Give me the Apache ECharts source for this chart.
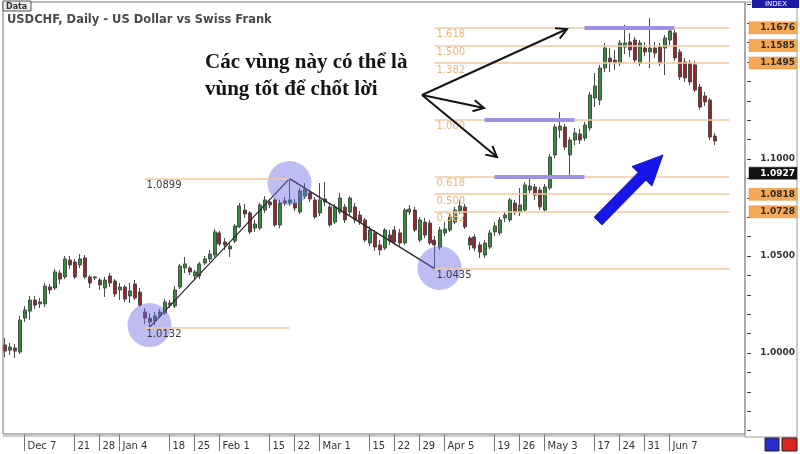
<!DOCTYPE html>
<html><head><meta charset="utf-8">
<script src="https://cdn.jsdelivr.net/npm/echarts@6/dist/echarts.min.js"></script>
<style>html,body{margin:0;padding:0;background:#fff}#c{width:800px;height:454px}</style>
</head><body><div id="c"></div>
<script>
// ---------- DATA (USDCHF daily) ----------
const opens = [1.0041,1.0015,1.0026,1.0005,1.0180,1.0216,1.0273,1.0253,1.0253,1.0340,
1.0335,1.0412,1.0392,1.0479,1.0469,1.0454,1.0490,1.0392,1.0387,1.0376,
1.0335,1.0397,1.0371,1.0325,1.0340,1.0294,1.0356,1.0314,1.0211,1.0180,
1.0165,1.0191,1.0206,1.0247,1.0242,1.0340,1.0438,1.0438,1.0397,1.0397,
1.0464,1.0485,1.0505,1.0619,1.0572,1.0536,1.0577,1.0650,1.0737,1.0722,
1.0644,1.0644,1.0737,1.0778,1.0789,1.0660,1.0784,1.0773,1.0773,1.0727,
1.0809,1.0825,1.0789,1.0722,1.0794,1.0753,1.0675,1.0727,1.0753,1.0727,
1.0753,1.0711,1.0686,1.0567,1.0619,1.0557,1.0541,1.0608,1.0634,1.0619,
1.0567,1.0727,1.0737,1.0582,1.0675,1.0670,1.0582,1.0546,1.0619,1.0634,
1.0675,1.0732,1.0753,1.0593,1.0598,1.0557,1.0505,1.0546,1.0624,1.0619,
1.0696,1.0686,1.0773,1.0727,1.0737,1.0840,1.0856,1.0840,1.0737,1.0851,
1.1021,1.1149,1.1165,1.1021,1.1098,1.1129,1.1108,1.1160,1.1315,1.1304,
1.1469,1.1520,1.1510,1.1495,1.1577,1.1603,1.1613,1.1495,1.1572,1.1552,
1.1572,1.1577,1.1572,1.1613,1.1650,1.1552,1.1500,1.1495,1.1485,1.1371,
1.1325,1.1304,1.1118];
const closes = [1.0010,1.0031,1.0010,1.0170,1.0222,1.0273,1.0247,1.0263,1.0345,1.0325,
1.0418,1.0381,1.0485,1.0454,1.0392,1.0485,1.0392,1.0361,1.0392,1.0351,
1.0376,1.0361,1.0304,1.0340,1.0278,1.0320,1.0284,1.0247,1.0180,1.0160,
1.0191,1.0211,1.0263,1.0258,1.0325,1.0448,1.0459,1.0418,1.0418,1.0459,
1.0485,1.0510,1.0624,1.0562,1.0557,1.0551,1.0655,1.0758,1.0717,1.0624,
1.0665,1.0763,1.0789,1.0763,1.0660,1.0773,1.0773,1.0789,1.0747,1.0835,
1.0845,1.0794,1.0701,1.0789,1.0778,1.0660,1.0753,1.0799,1.0686,1.0799,
1.0686,1.0675,1.0582,1.0634,1.0546,1.0531,1.0634,1.0577,1.0572,1.0567,
1.0737,1.0742,1.0634,1.0686,1.0608,1.0567,1.0557,1.0634,1.0639,1.0701,
1.0737,1.0758,1.0650,1.0557,1.0541,1.0520,1.0567,1.0619,1.0655,1.0686,
1.0711,1.0789,1.0727,1.0763,1.0866,1.0861,1.0814,1.0753,1.0856,1.1010,
1.1165,1.1170,1.1062,1.1098,1.1134,1.1098,1.1175,1.1330,1.1376,1.1469,
1.1572,1.1500,1.1495,1.1598,1.1598,1.1562,1.1510,1.1598,1.1552,1.1572,
1.1546,1.1495,1.1624,1.1660,1.1521,1.1423,1.1418,1.1397,1.1356,1.1268,
1.1294,1.1113,1.1093];
const lows = [0.9979,0.9990,0.9974,0.9995,1.0160,1.0170,1.0227,1.0232,1.0237,1.0304,
1.0325,1.0356,1.0381,1.0433,1.0381,1.0438,1.0381,1.0335,1.0376,1.0325,
1.0289,1.0340,1.0289,1.0273,1.0263,1.0258,1.0273,1.0237,1.0149,1.0132,
1.0144,1.0180,1.0196,1.0232,1.0232,1.0330,1.0412,1.0402,1.0376,1.0381,
1.0454,1.0469,1.0495,1.0551,1.0531,1.0495,1.0567,1.0644,1.0696,1.0613,
1.0624,1.0634,1.0722,1.0747,1.0650,1.0644,1.0758,1.0758,1.0732,1.0717,
1.0794,1.0778,1.0691,1.0706,1.0758,1.0650,1.0665,1.0717,1.0670,1.0711,
1.0670,1.0660,1.0572,1.0551,1.0526,1.0505,1.0531,1.0557,1.0557,1.0551,
1.0557,1.0711,1.0624,1.0572,1.0593,1.0557,1.0435,1.0531,1.0603,1.0624,
1.0665,1.0717,1.0639,1.0531,1.0526,1.0490,1.0490,1.0536,1.0603,1.0608,
1.0675,1.0675,1.0711,1.0706,1.0727,1.0825,1.0789,1.0737,1.0727,1.0840,
1.1005,1.1108,1.1046,1.0918,1.1072,1.1077,1.1093,1.1144,1.1268,1.1278,
1.1448,1.1448,1.1459,1.1479,1.1541,1.1526,1.1495,1.1479,1.1531,1.1469,
1.1521,1.1479,1.1433,1.1588,1.1505,1.1407,1.1397,1.1381,1.1345,1.1253,
1.1273,1.1098,1.1072];
const highs = [1.0077,1.0052,1.0046,1.0191,1.0242,1.0294,1.0294,1.0284,1.0361,1.0356,
1.0433,1.0428,1.0500,1.0500,1.0485,1.0510,1.0505,1.0402,1.0397,1.0387,
1.0392,1.0412,1.0381,1.0361,1.0351,1.0361,1.0376,1.0335,1.0232,1.0206,
1.0211,1.0227,1.0278,1.0273,1.0345,1.0459,1.0495,1.0448,1.0428,1.0469,
1.0500,1.0531,1.0639,1.0629,1.0593,1.0572,1.0665,1.0773,1.0768,1.0732,
1.0686,1.0773,1.0809,1.0794,1.0799,1.0789,1.0804,1.0899,1.0794,1.0851,
1.0876,1.0840,1.0804,1.0876,1.0881,1.0768,1.0768,1.0825,1.0768,1.0809,
1.0773,1.0732,1.0696,1.0655,1.0634,1.0582,1.0644,1.0634,1.0655,1.0639,
1.0747,1.0763,1.0753,1.0701,1.0696,1.0686,1.0603,1.0650,1.0675,1.0717,
1.0753,1.0789,1.0768,1.0603,1.0613,1.0572,1.0582,1.0634,1.0675,1.0701,
1.0727,1.0799,1.0789,1.0851,1.0881,1.0918,1.0871,1.0856,1.0871,1.1026,
1.1180,1.1242,1.1180,1.1113,1.1160,1.1155,1.1191,1.1345,1.1443,1.1485,
1.1598,1.1572,1.1562,1.1613,1.1691,1.1649,1.1629,1.1613,1.1603,1.1727,
1.1603,1.1598,1.1639,1.1680,1.1665,1.1567,1.1521,1.1510,1.1505,1.1387,
1.1345,1.1315,1.1134];

const tickDates  = ['2009-12-07','2009-12-21','2009-12-28','2010-01-04','2010-01-18','2010-01-25',
  '2010-02-01','2010-02-15','2010-02-22','2010-03-01','2010-03-15','2010-03-22','2010-03-29',
  '2010-04-05','2010-04-19','2010-04-26','2010-05-03','2010-05-17','2010-05-24','2010-05-31','2010-06-07'];
const tickLabels = ['Dec 7','21','28','Jan 4','18','25','Feb 1','15','22','Mar 1','15','22','29',
  'Apr 5','19','26','May 3','17','24','31','Jun 7'];

const fibNames  = ['1.618','1.500','1.382','1.000','0.618','0.500','0.382','1.0435'];
const fibPrices = [1.1676, 1.1585, 1.1495, 1.1202, 1.0909, 1.0819, 1.0728, 1.0435];
const swingNames  = ['1.0899','1.0132'];
const swingLevels = [1.0899, 1.0132];
const swingIdx    = [29, 57, 86];
const swingPrices = [1.0132, 1.0899, 1.0435];
const zonePrices  = [1.1676, 1.1202, 1.0909];
const zoneFrom    = [116, 96, 98];
const zoneTo      = [134, 114, 116];
const circleIdx    = [29, 57, 87];
const circlePrices = [1.0144, 1.0876, 1.0438];
const tagPrices = [1.1676, 1.1585, 1.1495, 1.0927, 1.0818, 1.0728];
const tagDark   = [false, false, false, true, false, false];
const yLabelValues = [1.00, 1.05, 1.10];

// ---------- categories: trading days ----------
const cats = [];
(function(){
  let d = Date.UTC(2009, 11, 1);
  while (cats.length < 149) {
    const dt = new Date(d), wd = dt.getUTCDay(), s = dt.toISOString().slice(0,10);
    if (wd > 0 && wd < 6 && s !== '2010-01-01') cats.push(s);
    d += 86400000;
  }
})();
const tickMap = new Map(tickDates.map((d,i)=>[cats.indexOf(d), tickLabels[i]]));
const candle = opens.map((o,i)=>[o, closes[i], lows[i], highs[i]]);

// ---------- level lines ----------
const peach = '#f5c89c';
const levelLines = [];
fibPrices.forEach((p,i)=>{
  const dark = i === fibPrices.length-1;
  const lab = {show:true, position:'insideStartBottom', formatter:'{b}', distance:2,
    color: dark ? '#3a3a4a' : '#f0b47a', fontSize:10, fontFamily:'DejaVu Sans'};
  const ls = {color:peach, width:1.5, type:'solid'};
  levelLines.push([{name:fibNames[i], coord:[86,p], lineStyle:ls, label:lab},{name:fibNames[i], coord:[145,p], lineStyle:ls, label:lab}]);
});
swingLevels.forEach((p,i)=>{
  const lab = {show:true, position:'insideStartBottom', formatter:'{b}', distance:2,
    color:'#3a3a3a', fontSize:10, fontFamily:'DejaVu Sans'};
  const ls = {color:peach, width:1.5, type:'solid'};
  levelLines.push([{name:swingNames[i], coord:[28,p], lineStyle:ls, label:lab},{name:swingNames[i], coord:[57,p], lineStyle:ls, label:lab}]);
});
zonePrices.forEach((p,i)=>{
  const ls = {color:'#9d92e6', width:4, type:'solid'};
  levelLines.push([{name:'', coord:[zoneFrom[i],p], lineStyle:ls, label:{show:false}},{name:'', coord:[zoneTo[i],p], lineStyle:ls, label:{show:false}}]);
});

const chart = echarts.init(document.getElementById('c'));
chart.setOption({
  animation:false,
  backgroundColor:'#ffffff',
  grid:{left:2, right:53, top:3.8, bottom:23.4, containLabel:false},
  xAxis:{type:'category', data:cats, boundaryGap:true, offset:3.5,
    axisLine:{show:false},
    axisTick:{show:true, alignWithLabel:true, length:17, interval:(i)=>tickMap.has(i), lineStyle:{color:'#777'}},
    axisLabel:{interval:(i)=>tickMap.has(i), formatter:(v,i)=>tickMap.get(i)||'', align:'left',
      margin:7, fontSize:10, color:'#333', fontFamily:'DejaVu Sans', padding:[0,0,0,3]},
    splitLine:{show:false}},
  yAxis:{type:'value', position:'right', min:0.96, max:1.18, interval:0.01, scale:true,
    axisLine:{show:false}, splitLine:{show:false},
    axisTick:{show:true, length:4, lineStyle:{color:'#444'}},
    axisLabel:{formatter:(v)=> yLabelValues.some(x=>Math.abs(x-v)<1e-6) ? v.toFixed(4) : '',
      align:'right', margin:48, fontSize:9, fontWeight:'bold', color:'#333', fontFamily:'DejaVu Sans'}},
  series:[
    {type:'line', name:'levels', data:[], z:1, silent:true,
      markLine:{symbol:['none','none'], silent:true, animation:false, data:levelLines}},
    {type:'candlestick', data:candle, barWidth:3.5, z:2, silent:true,
      itemStyle:{color:'#2e9233', color0:'#9e2427', borderColor:'#4a4a4a', borderColor0:'#4a4a4a', borderWidth:1}},
    {type:'line', data:swingIdx.map((k,i)=>[k, swingPrices[i]]), symbol:'none', z:3, silent:true,
      lineStyle:{color:'#2a2a2a', width:1.3}},
    {type:'scatter', data:circleIdx.map((k,i)=>[k, circlePrices[i]]), symbol:'circle', symbolSize:44, z:4, silent:true,
      itemStyle:{color:'rgba(104,104,228,0.55)'}}
  ]
});

// ---------- annotations via the chart's own scales ----------
const X0 = chart.convertToPixel({xAxisIndex:0}, 0), X1 = chart.convertToPixel({xAxisIndex:0}, 1);
const px = k => X0 + k*(X1-X0);
const py = v => chart.convertToPixel({yAxisIndex:0}, v);
const g = [];

// plot frame
g.push({type:'rect', shape:{x:3, y:2, width:742, height:432}, style:{fill:null, stroke:'#777', lineWidth:1}, z:90, silent:true});
g.push({type:'line', shape:{x1:3, y1:436, x2:745, y2:436}, style:{stroke:'#999', lineWidth:1}, z:90, silent:true});
g.push({type:'rect', shape:{x:745, y:2, width:52, height:435}, style:{fill:null, stroke:'#999', lineWidth:1}, z:90, silent:true});

// black arrows
const arrowFrom = [83.5, 1.1330];
const arrowTips = [[112.5, 1.1670], [95.9, 1.1263], [98.5, 1.1010]];
const ox = px(arrowFrom[0]), oy = py(arrowFrom[1]);
arrowTips.forEach(t=>{
  const tx = px(t[0]), ty = py(t[1]);
  g.push({type:'line', shape:{x1:ox, y1:oy, x2:tx, y2:ty}, style:{stroke:'#151515', lineWidth:2}, z:95, silent:true});
  const dx = tx-ox, dy = ty-oy, L = Math.hypot(dx,dy), ux = dx/L, uy = dy/L;
  const arm = 12, a = 28*Math.PI/180;
  const r = (ang)=>[tx - arm*(ux*Math.cos(ang) - uy*Math.sin(ang)), ty - arm*(ux*Math.sin(ang) + uy*Math.cos(ang))];
  g.push({type:'polyline', shape:{points:[r(a), [tx,ty], r(-a)]}, style:{stroke:'#151515', lineWidth:2, fill:null}, z:95, silent:true});
});

// blue arrow
const bTail = [118.7, 1.0680], bTip = [131.7, 1.1021];
(function(){
  const tx = px(bTail[0]), ty = py(bTail[1]), hx = px(bTip[0]), hy = py(bTip[1]);
  const dx = hx-tx, dy = hy-ty, L = Math.hypot(dx,dy), ux = dx/L, uy = dy/L, nx = -uy, ny = ux;
  const hl = 30, hh = 14, sh = 5.5;
  const bx = hx - ux*hl, by = hy - uy*hl;
  const pts = [[tx+nx*sh, ty+ny*sh],[bx+nx*sh, by+ny*sh],[bx+nx*hh, by+ny*hh],[hx,hy],
               [bx-nx*hh, by-ny*hh],[bx-nx*sh, by-ny*sh],[tx-nx*sh, ty-ny*sh]];
  g.push({type:'polygon', shape:{points:pts}, style:{fill:'#1616e6', stroke:'#0c0cb0', lineWidth:0.8}, z:95, silent:true});
})();

// annotation text
g.push({type:'text', x:205, y:63, style:{text:'Các vùng này có thể là', font:'bold 21px "Liberation Serif"', fill:'#151515', verticalAlign:'middle', textVerticalAlign:'middle'}, z:96, silent:true});
g.push({type:'text', x:205, y:90, style:{text:'vùng tốt để chốt lời', font:'bold 21px "Liberation Serif"', fill:'#151515', verticalAlign:'middle', textVerticalAlign:'middle'}, z:96, silent:true});

// title and corner boxes
g.push({type:'text', x:7, y:20, style:{text:'USDCHF, Daily - US Dollar vs Swiss Frank', font:'bold 11.5px "DejaVu Sans"', fill:'#4a4a4a', verticalAlign:'middle', textVerticalAlign:'middle'}, z:96, silent:true});
g.push({type:'rect', shape:{x:3, y:1, width:28, height:10}, style:{fill:'#eeeeee', stroke:'#555', lineWidth:1}, z:97, silent:true});
g.push({type:'text', x:6, y:6.5, style:{text:'Data', font:'bold 8px "DejaVu Sans"', fill:'#333', verticalAlign:'middle', textVerticalAlign:'middle'}, z:98, silent:true});
g.push({type:'rect', shape:{x:752, y:0, width:47, height:8}, style:{fill:'#1c1ca6'}, z:97, silent:true});
g.push({type:'text', x:776, y:4.5, style:{text:'INDEX', font:'7px "DejaVu Sans"', fill:'#ffffff', align:'center', textAlign:'center', verticalAlign:'middle', textVerticalAlign:'middle'}, z:98, silent:true});
g.push({type:'rect', shape:{x:765, y:438, width:14, height:13}, style:{fill:'#2b2bd0', stroke:'#222', lineWidth:1}, z:97, silent:true});
g.push({type:'rect', shape:{x:782, y:438, width:15, height:13}, style:{fill:'#dd2222', stroke:'#222', lineWidth:1}, z:97, silent:true});

// price tags on the right axis
tagPrices.forEach((p,i)=>{
  const y = py(p);
  g.push({type:'rect', shape:{x:749, y:y-6, width:48, height:12}, style:{fill: tagDark[i] ? '#111' : '#f7a857', stroke: tagDark[i] ? '#111' : '#d98a3a', lineWidth:0.5}, z:97, silent:true});
  g.push({type:'text', x:795, y:y, style:{text:p.toFixed(4), font:'bold 9px "DejaVu Sans"', fill: tagDark[i] ? '#fff' : '#2a2a2a', align:'right', textAlign:'right', verticalAlign:'middle', textVerticalAlign:'middle'}, z:98, silent:true});
});

chart.setOption({graphic:{elements:g}});
</script>
</body></html>
